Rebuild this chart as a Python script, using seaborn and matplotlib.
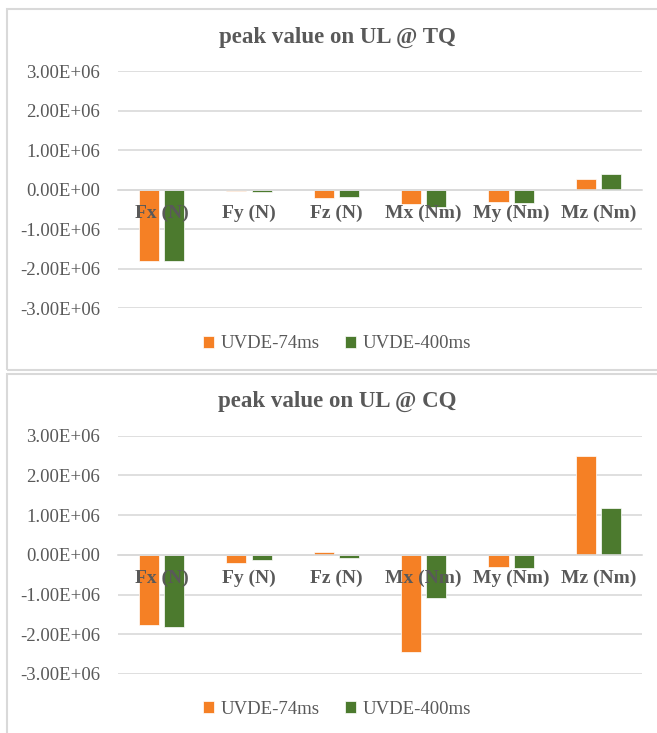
import matplotlib
matplotlib.use("Agg")
import matplotlib.pyplot as plt
import matplotlib.ticker as mticker
from matplotlib.patches import Rectangle
import numpy as np
import pandas as pd
import seaborn as sns

# values
categories = ["Fx (N)", "Fy (N)", "Fz (N)", "Mx (Nm)", "My (Nm)", "Mz (Nm)"]
series = ["UVDE-74ms", "UVDE-400ms"]

tq_74ms = [-1.80e6, -0.04e6, -0.22e6, -0.36e6, -0.30e6, 0.27e6]
tq_400ms = [-1.80e6, -0.065e6, -0.17e6, -0.43e6, -0.33e6, 0.40e6]

cq_74ms = [-1.76e6, -0.20e6, 0.07e6, -2.44e6, -0.31e6, 2.49e6]
cq_400ms = [-1.82e6, -0.12e6, -0.075e6, -1.08e6, -0.34e6, 1.19e6]

y_ticks = [-3e6, -2e6, -1e6, 0, 1e6, 2e6, 3e6]

titles = ["peak value on UL @ TQ", "peak value on UL @ CQ"]

colors = ["#F58025", "#4C7A2E"]
txt = "#595959"
grid = "#D9D9D9"

sns.set_style("white")
plt.rcParams["font.family"] = ["Liberation Serif", "DejaVu Serif"]


def long_df(a, b):
    return pd.DataFrame({
        "category": categories * 2,
        "series": [series[0]] * len(categories) + [series[1]] * len(categories),
        "value": list(a) + list(b),
    })


fig = plt.figure(figsize=(6.57, 7.33), dpi=100)

# panel frames (chart area borders)
fig.add_artist(Rectangle((0.0107, 0.4952), 1.0, 0.4925, transform=fig.transFigure,
                         fill=False, edgecolor=grid, lw=1.5))
fig.add_artist(Rectangle((0.0107, -0.05), 1.0, 0.5398, transform=fig.transFigure,
                         fill=False, edgecolor=grid, lw=1.5))

axes_pos = [[0.1796, 0.5794, 0.7976, 0.3233], [0.1796, 0.0805, 0.7976, 0.3251]]
title_y = [0.9495, 0.452]
legend_y = [0.5307, 0.0327]
data = [(tq_74ms, tq_400ms), (cq_74ms, cq_400ms)]

for i in range(2):
    ax = fig.add_axes(axes_pos[i])
    df = long_df(*data[i])
    sns.barplot(data=df, x="category", y="value", hue="series", palette=colors,
                saturation=1, width=0.574, gap=0.2, errorbar=None,
                edgecolor="white", linewidth=0.5, ax=ax)

    ax.set_ylim(-3e6, 3e6)
    ax.set_xlim(-0.5, len(categories) - 0.5)
    ax.set_yticks(y_ticks)
    ax.yaxis.set_major_formatter(mticker.FuncFormatter(lambda v, p: f"{v:.2E}"))
    ax.grid(axis="y", color=grid, lw=1.2)
    ax.set_axisbelow(True)
    ax.xaxis.set_zorder(3)

    for s in ["top", "right", "left"]:
        ax.spines[s].set_visible(False)
    ax.spines["bottom"].set_position(("data", 0))
    ax.spines["bottom"].set_color(grid)
    ax.spines["bottom"].set_linewidth(1.2)

    ax.tick_params(axis="y", length=0, pad=13, labelsize=13.5, labelcolor=txt)
    ax.tick_params(axis="x", length=0, pad=11, labelsize=14, labelcolor=txt)
    for lab in ax.get_xticklabels():
        lab.set_fontweight("bold")
    ax.set_xlabel("")
    ax.set_ylabel("")

    h, l = ax.get_legend_handles_labels()
    ax.get_legend().remove()
    fig.legend(h, l, loc="center", bbox_to_anchor=(0.513, legend_y[i]), ncol=2,
               frameon=False, fontsize=13.5, labelcolor=txt, handlelength=0.55,
               handleheight=0.55, handletextpad=0.35, columnspacing=1.4)

    fig.text(0.513, title_y[i], titles[i], ha="center", va="center",
             fontsize=16.5, fontweight="bold", color=txt)

fig.savefig("out.png", dpi=100)
